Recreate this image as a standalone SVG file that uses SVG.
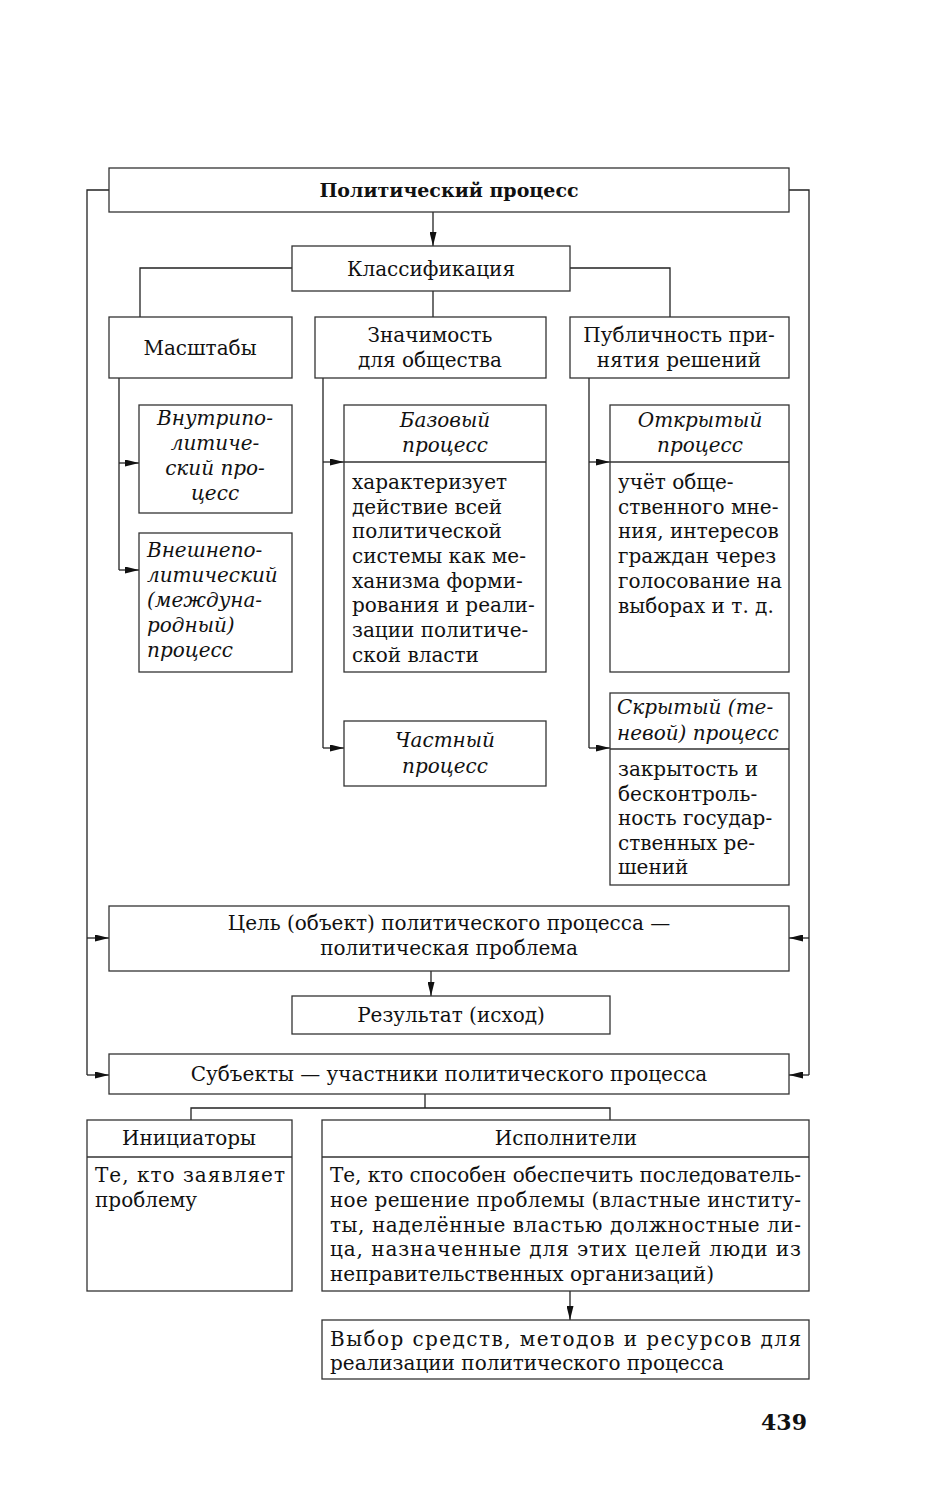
<svg xmlns="http://www.w3.org/2000/svg" width="930" height="1500" viewBox="0 0 930 1500">
<style>
.b{fill:#fff;stroke:#333;stroke-width:1.3}
.l{fill:none;stroke:#222;stroke-width:1.3}
text{font-family:"DejaVu Serif","Liberation Serif",serif;font-size:20px;fill:#111}
.c{text-anchor:middle}
.i{font-style:italic}
.bd{font-weight:bold}
</style>
<defs>
<marker id="a" viewBox="0 0 14 7" refX="14" refY="3.5" markerWidth="14" markerHeight="7" markerUnits="userSpaceOnUse" orient="auto">
<path d="M0,0 L14,3.5 L0,7 Z" fill="#111"/>
</marker>
</defs>
<rect width="930" height="1500" fill="#fff"/>
<g id="connectors">
<polyline class="l" points="109,190 87,190 87,1075"/>
<line class="l" x1="87" y1="938" x2="109" y2="938" marker-end="url(#a)"/>
<line class="l" x1="87" y1="1075" x2="109" y2="1075" marker-end="url(#a)"/>
<polyline class="l" points="789,190 809,190 809,1075"/>
<line class="l" x1="809" y1="938" x2="789" y2="938" marker-end="url(#a)"/>
<line class="l" x1="809" y1="1075" x2="789" y2="1075" marker-end="url(#a)"/>
<line class="l" x1="433" y1="212" x2="433" y2="246" marker-end="url(#a)"/>
<polyline class="l" points="292,268 140,268 140,317"/>
<polyline class="l" points="570,268 670,268 670,317"/>
<line class="l" x1="433" y1="291" x2="433" y2="317"/>
<polyline class="l" points="119,378 119,570"/>
<line class="l" x1="119" y1="463" x2="139" y2="463" marker-end="url(#a)"/>
<line class="l" x1="119" y1="570" x2="139" y2="570" marker-end="url(#a)"/>
<polyline class="l" points="323,378 323,748"/>
<line class="l" x1="323" y1="462" x2="344" y2="462" marker-end="url(#a)"/>
<line class="l" x1="323" y1="748" x2="344" y2="748" marker-end="url(#a)"/>
<polyline class="l" points="589,378 589,748"/>
<line class="l" x1="589" y1="462" x2="610" y2="462" marker-end="url(#a)"/>
<line class="l" x1="589" y1="748" x2="610" y2="748" marker-end="url(#a)"/>
<line class="l" x1="431" y1="971" x2="431" y2="996" marker-end="url(#a)"/>
<line class="l" x1="425" y1="1094" x2="425" y2="1108"/>
<polyline class="l" points="191,1120 191,1108 610,1108 610,1120"/>
<line class="l" x1="570" y1="1291" x2="570" y2="1320" marker-end="url(#a)"/>
</g>
<g id="n-top"><rect class="b" x="109" y="168" width="680" height="44"/><text class="c bd" x="449" y="197" style="font-size:19px">Политический процесс</text></g>
<g id="n-class"><rect class="b" x="292" y="246" width="278" height="45"/><text class="c" x="431" y="276">Классификация</text></g>
<g id="n-masht"><rect class="b" x="109" y="317" width="183" height="61"/><text class="c" x="200" y="355">Масштабы</text></g>
<g id="n-znach"><rect class="b" x="315" y="317" width="231" height="61"/><text class="c" x="430" y="342">Значимость</text><text class="c" x="430" y="367">для общества</text></g>
<g id="n-publ"><rect class="b" x="570" y="317" width="219" height="61"/><text class="c" x="679" y="342">Публичность при-</text><text class="c" x="679" y="367">нятия решений</text></g>
<g id="n-vnutri"><rect class="b" x="139" y="405" width="153" height="108"/>
<text class="c i" x="215" y="425">Внутрипо-</text><text class="c i" x="215" y="450">литиче-</text><text class="c i" x="215" y="475">ский про-</text><text class="c i" x="215" y="500">цесс</text></g>
<g id="n-vneshne"><rect class="b" x="139" y="533" width="153" height="139"/>
<text class="i" x="147" y="557">Внешнепо-</text><text class="i" x="147" y="582">литический</text><text class="i" x="147" y="607">(междуна-</text><text class="i" x="147" y="632">родный)</text><text class="i" x="147" y="657">процесс</text></g>
<g id="n-bazov"><rect class="b" x="344" y="405" width="202" height="267"/><line class="b" x1="344" y1="462" x2="546" y2="462"/>
<text class="c i" x="445" y="427">Базовый</text><text class="c i" x="445" y="452">процесс</text>
<text x="352" y="489">характеризует</text><text x="352" y="514">действие всей</text><text x="352" y="538">политической</text><text x="352" y="563">системы как ме-</text><text x="352" y="588">ханизма форми-</text><text x="352" y="612">рования и реали-</text><text x="352" y="637">зации политиче-</text><text x="352" y="662">ской власти</text></g>
<g id="n-chast"><rect class="b" x="344" y="721" width="202" height="65"/><text class="c i" x="445" y="747">Частный</text><text class="c i" x="445" y="773">процесс</text></g>
<g id="n-otkr"><rect class="b" x="610" y="405" width="179" height="267"/><line class="b" x1="610" y1="462" x2="789" y2="462"/>
<text class="c i" x="700" y="427">Открытый</text><text class="c i" x="700" y="452">процесс</text>
<text x="618" y="489">учёт обще-</text><text x="618" y="514">ственного мне-</text><text x="618" y="538">ния, интересов</text><text x="618" y="563">граждан через</text><text x="618" y="588">голосование на</text><text x="618" y="613">выборах и т. д.</text></g>
<g id="n-skryt"><rect class="b" x="610" y="693" width="179" height="192"/><line class="b" x1="610" y1="749" x2="789" y2="749"/>
<text class="i" x="617" y="714">Скрытый (те-</text><text class="i" x="617" y="740">невой) процесс</text>
<text x="618" y="776">закрытость и</text><text x="618" y="801">бесконтроль-</text><text x="618" y="825">ность государ-</text><text x="618" y="850">ственных ре-</text><text x="618" y="874">шений</text></g>
<g id="n-cel"><rect class="b" x="109" y="906" width="680" height="65"/><text class="c" x="449" y="930">Цель (объект) политического процесса —</text><text class="c" x="449" y="955">политическая проблема</text></g>
<g id="n-rez"><rect class="b" x="292" y="996" width="318" height="38"/><text class="c" x="451" y="1022">Результат (исход)</text></g>
<g id="n-subj"><rect class="b" x="109" y="1054" width="680" height="40"/><text class="c" x="449" y="1081">Субъекты — участники политического процесса</text></g>
<g id="n-init"><rect class="b" x="87" y="1120" width="205" height="171"/><line class="b" x1="87" y1="1157" x2="292" y2="1157"/>
<text class="c" x="189" y="1145">Инициаторы</text>
<text x="95" y="1182" textLength="190" lengthAdjust="spacing">Те, кто заявляет</text><text x="95" y="1207">проблему</text></g>
<g id="n-isp"><rect class="b" x="322" y="1120" width="487" height="171"/><line class="b" x1="322" y1="1157" x2="809" y2="1157"/>
<text class="c" x="566" y="1145">Исполнители</text>
<text x="330" y="1182" textLength="471" lengthAdjust="spacing">Те, кто способен обеспечить последователь-</text>
<text x="330" y="1207" textLength="471" lengthAdjust="spacing">ное решение проблемы (властные институ-</text>
<text x="330" y="1232" textLength="471" lengthAdjust="spacing">ты, наделённые властью должностные ли-</text>
<text x="330" y="1256" textLength="471" lengthAdjust="spacing">ца, назначенные для этих целей люди из</text>
<text x="330" y="1281">неправительственных организаций)</text></g>
<g id="n-vybor"><rect class="b" x="322" y="1320" width="487" height="59"/>
<text x="330" y="1346" textLength="471" lengthAdjust="spacing">Выбор средств, методов и ресурсов для</text>
<text x="330" y="1370">реализации политического процесса</text></g>
<text class="bd" x="807" y="1430" text-anchor="end" style="font-size:22px">439</text>
</svg>
